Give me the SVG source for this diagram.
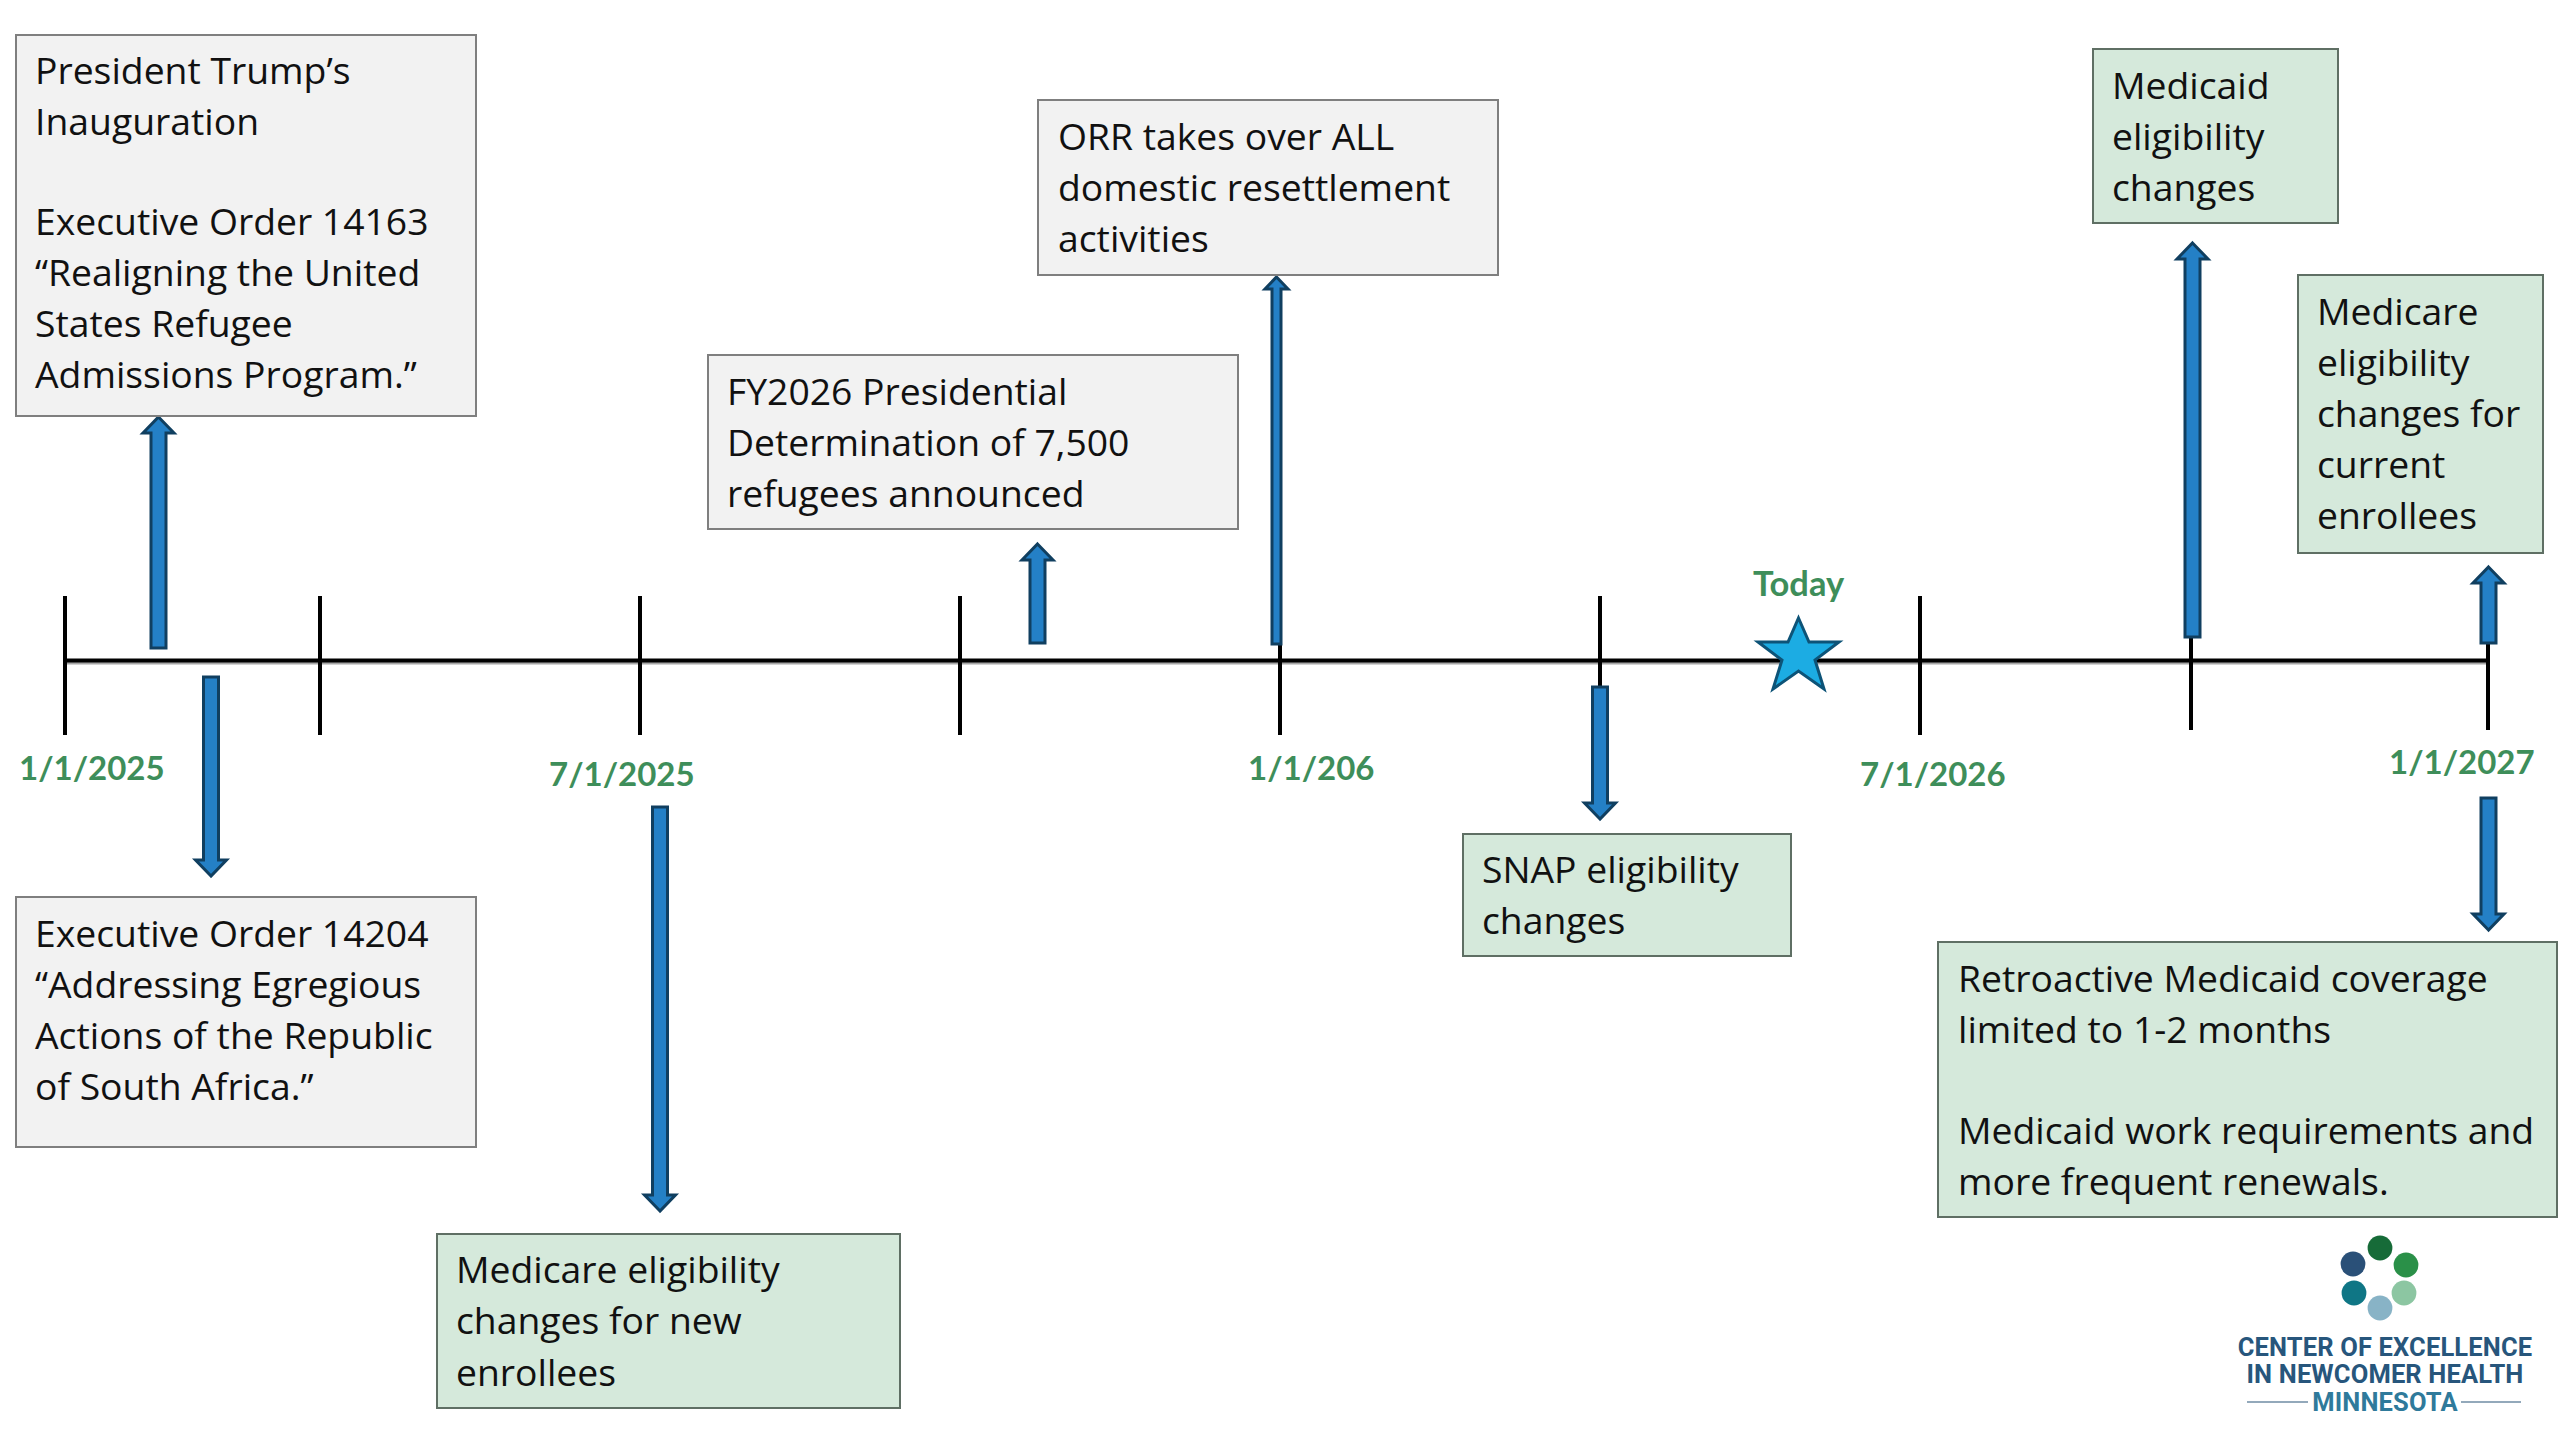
<svg xmlns="http://www.w3.org/2000/svg" width="2560" height="1440" viewBox="0 0 2560 1440">
<style>
.gray{fill:#f2f2f2;stroke:#7f7f7f;stroke-width:2}
.green{fill:#d5e9db;stroke:#5f6f64;stroke-width:2}
.t{font-family:"Open Sans","Noto Sans",sans-serif;font-size:37.3px;fill:#111}
.d{font-family:Lato,"Liberation Sans",sans-serif;font-weight:700;font-size:33px;fill:#3e8e5a}
.arrow{fill:#2480c6;stroke:#103f60;stroke-width:3}
.tick{stroke:#000;stroke-width:4;fill:none}
.logo{font-family:Roboto,"Liberation Sans",sans-serif;font-weight:700;font-size:25.5px;letter-spacing:.15px;fill:#27567c;text-anchor:middle}
</style>
<rect width="2560" height="1440" fill="#fff"/>
<g id="timeline">
<path d="M65 662.5H2488" stroke="#a6a6a6" stroke-width="4" fill="none"/>
<path class="tick" d="M65 660.500H2488M65 596V735M320 596V735M640 596V735M960 596V735M1280 596V735M1600 596V735M1920 596V735M2191 596V730M2488 596V730"/>
</g>
<g id="connectors">
<path class="arrow" d="M158.500 417L174 433H166V648H151V433H143Z"/>
<path class="arrow" d="M211 876L195.500 860H203.500V677H218.500V860H226.500Z"/>
<path class="arrow" d="M660 1211L644.500 1195H652.500V807H667.500V1195H675.500Z"/>
<path class="arrow" d="M1037.500 544L1053 560H1045V643H1030V560H1022Z"/>
<path class="arrow" d="M1276.500 277L1288 289H1281V644H1272V289H1265Z"/>
<path class="arrow" d="M1600 819L1584.500 803H1592.500V687H1607.500V803H1615.500Z"/>
<path class="arrow" d="M2192.500 243L2208 259H2200V637H2185V259H2177Z"/>
<path class="arrow" d="M2488.500 567L2504 583H2496V643H2481V583H2473Z"/>
<path class="arrow" d="M2488.500 930L2473 914H2481V798H2496V914H2504Z"/>
</g>
<g id="dates">
<text class="d" x="19" y="780">1/1/2025</text>
<text class="d" x="549" y="786">7/1/2025</text>
<text class="d" x="1248" y="780">1/1/206</text>
<text class="d" x="1860" y="786">7/1/2026</text>
<text class="d" x="2389" y="774">1/1/2027</text>
</g>
<g id="today">
<text class="d" x="1753" y="596" style="font-size:34.500px">Today</text>
<polygon points="1798.500,618 1809,642 1839,642 1815,660 1824,689 1798.500,671 1773,689 1782,660 1758,642 1788,642" fill="#1cace3" stroke="#0d5377" stroke-width="3"/>
</g>
<g id="n1"><rect class="gray" x="16" y="35" width="460" height="381"/>
<text class="t"><tspan x="35" y="84">President Trump’s</tspan><tspan x="35" y="135">Inauguration</tspan><tspan x="35" y="235">Executive Order 14163</tspan><tspan x="35" y="286">“Realigning the United</tspan><tspan x="35" y="337">States Refugee</tspan><tspan x="35" y="388">Admissions Program.”</tspan></text></g>
<g id="n2"><rect class="gray" x="16" y="897" width="460" height="250"/>
<text class="t"><tspan x="35" y="947">Executive Order 14204</tspan><tspan x="35" y="998">“Addressing Egregious</tspan><tspan x="35" y="1049">Actions of the Republic</tspan><tspan x="35" y="1100">of South Africa.”</tspan></text></g>
<g id="n3"><rect class="green" x="437" y="1234" width="463" height="174"/>
<text class="t"><tspan x="456" y="1283">Medicare eligibility</tspan><tspan x="456" y="1334">changes for new</tspan><tspan x="456" y="1386">enrollees</tspan></text></g>
<g id="n4"><rect class="gray" x="708" y="355" width="530" height="174"/>
<text class="t"><tspan x="727" y="405">FY2026 Presidential</tspan><tspan x="727" y="456">Determination of 7,500</tspan><tspan x="727" y="507">refugees announced</tspan></text></g>
<g id="n5"><rect class="gray" x="1038" y="100" width="460" height="175"/>
<text class="t"><tspan x="1058" y="150">ORR takes over ALL</tspan><tspan x="1058" y="201">domestic resettlement</tspan><tspan x="1058" y="252">activities</tspan></text></g>
<g id="n6"><rect class="green" x="1463" y="834" width="328" height="122"/>
<text class="t"><tspan x="1482" y="883">SNAP eligibility</tspan><tspan x="1482" y="934">changes</tspan></text></g>
<g id="n7"><rect class="green" x="2093" y="49" width="245" height="174"/>
<text class="t"><tspan x="2112" y="99">Medicaid</tspan><tspan x="2112" y="150">eligibility</tspan><tspan x="2112" y="201">changes</tspan></text></g>
<g id="n8"><rect class="green" x="2298" y="275" width="245" height="278"/>
<text class="t"><tspan x="2317" y="325">Medicare</tspan><tspan x="2317" y="376">eligibility</tspan><tspan x="2317" y="427">changes for</tspan><tspan x="2317" y="478">current</tspan><tspan x="2317" y="529">enrollees</tspan></text></g>
<g id="n9"><rect class="green" x="1938" y="942" width="619" height="275"/>
<text class="t"><tspan x="1958" y="992">Retroactive Medicaid coverage</tspan><tspan x="1958" y="1043">limited to 1-2 months</tspan><tspan x="1958" y="1144">Medicaid work requirements and</tspan><tspan x="1958" y="1195">more frequent renewals.</tspan></text></g>
<g id="logo">
<circle cx="2380" cy="1248" r="12.400" fill="#166b38"/><circle cx="2353" cy="1264" r="12.400" fill="#2a5078"/><circle cx="2406" cy="1265" r="12.400" fill="#2a9048"/><circle cx="2354" cy="1293" r="12.400" fill="#0f7685"/><circle cx="2404" cy="1293" r="12.400" fill="#8cc6a2"/><circle cx="2380" cy="1308" r="12.400" fill="#88b3c6"/>
<text class="logo" x="2385" y="1356">CENTER OF EXCELLENCE</text>
<text class="logo" x="2385" y="1383">IN NEWCOMER HEALTH</text>
<text class="logo" x="2385" y="1411" style="fill:#2f7a9b">MINNESOTA</text>
<path d="M2247 1402H2308M2461 1402H2521" stroke="#93a9bb" stroke-width="2" fill="none"/>
</g>
</svg>
